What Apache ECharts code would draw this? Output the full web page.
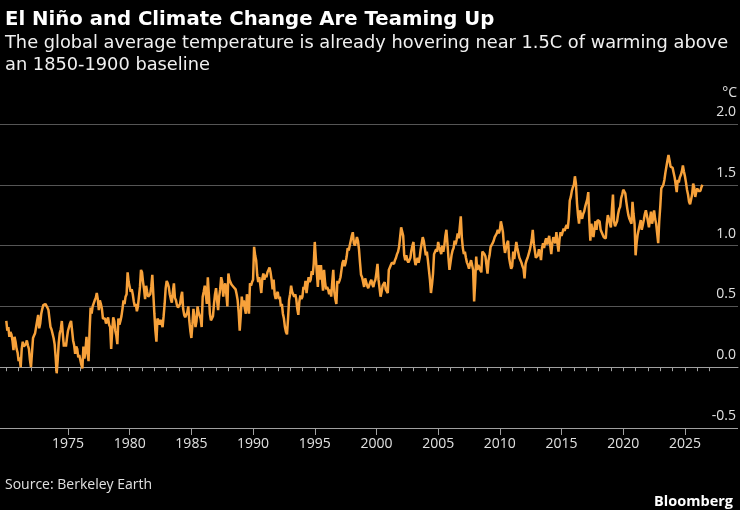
<!DOCTYPE html>
<html>
<head>
<meta charset="utf-8">
<script src="https://cdn.jsdelivr.net/npm/echarts@6/dist/echarts.min.js"></script>
<style>
html,body{margin:0;padding:0;background:#000;}
#chart{width:740px;height:510px;}
</style>
</head>
<body>
<div id="chart"></div>
<script>
// Monthly global temperature anomaly (°C vs 1850-1900), starting January 1970
const startYear = 1970;
const temps1970s = [
  0.38, 0.30, 0.33, 0.25, 0.29, 0.27, 0.22, 0.14, 0.25, 0.21, 0.15, 0.12,
  0.05, 0.08, 0.00, 0.15, 0.21, 0.17, 0.16, 0.19, 0.22, 0.18, 0.15, 0.06,
  0.00, 0.12, 0.24, 0.26, 0.28, 0.33, 0.38, 0.43, 0.32, 0.36, 0.44, 0.48,
  0.51, 0.50, 0.52, 0.52, 0.49, 0.47, 0.40, 0.33, 0.31, 0.30, 0.24, 0.19,
  0.08, -0.05, 0.06, 0.20, 0.28, 0.31, 0.38, 0.27, 0.17, 0.20, 0.17, 0.24,
  0.30, 0.33, 0.36, 0.38, 0.30, 0.22, 0.18, 0.11, 0.17, 0.15, 0.08, 0.10,
  0.06, 0.02, -0.01, 0.17, 0.07, 0.14, 0.25, 0.12, 0.05, 0.30, 0.49, 0.44,
  0.50, 0.51, 0.55, 0.57, 0.61, 0.56, 0.47, 0.55, 0.52, 0.48, 0.40, 0.385,
  0.40, 0.36, 0.38, 0.41, 0.35, 0.33, 0.15, 0.30, 0.41, 0.38, 0.30, 0.26,
  0.19, 0.40, 0.35, 0.38, 0.42, 0.48, 0.55, 0.52, 0.58, 0.60, 0.78, 0.70
];
const temps1980s = [
  0.69, 0.62, 0.64, 0.60, 0.54, 0.50, 0.52, 0.46, 0.50, 0.58, 0.66, 0.80,
  0.78, 0.70, 0.64, 0.56, 0.67, 0.62, 0.58, 0.59, 0.60, 0.66, 0.76, 0.60,
  0.44, 0.30, 0.21, 0.40, 0.38, 0.35, 0.39, 0.36, 0.33, 0.42, 0.52, 0.65,
  0.71, 0.69, 0.66, 0.60, 0.56, 0.53, 0.62, 0.69, 0.57, 0.55, 0.51, 0.49,
  0.48, 0.52, 0.58, 0.62, 0.48, 0.43, 0.41, 0.40, 0.45, 0.50, 0.38, 0.30,
  0.24, 0.35, 0.48, 0.41, 0.33, 0.38, 0.50, 0.45, 0.44, 0.40, 0.33, 0.58,
  0.62, 0.67, 0.60, 0.52, 0.74, 0.60, 0.44, 0.385, 0.40, 0.42, 0.52, 0.60,
  0.65, 0.55, 0.47, 0.58, 0.64, 0.74, 0.70, 0.58, 0.66, 0.69, 0.60, 0.50,
  0.77, 0.72, 0.71, 0.68, 0.67, 0.66, 0.65, 0.64, 0.60, 0.55, 0.45, 0.30,
  0.42, 0.58, 0.50, 0.55, 0.48, 0.44, 0.60, 0.52, 0.44, 0.69, 0.67, 0.70
];
const temps1990s = [
  0.72, 0.99, 0.92, 0.88, 0.76, 0.70, 0.74, 0.68, 0.61, 0.73, 0.77, 0.72,
  0.76, 0.74, 0.78, 0.80, 0.82, 0.78, 0.72, 0.64, 0.72, 0.60, 0.56, 0.60,
  0.62, 0.56, 0.58, 0.50, 0.52, 0.44, 0.40, 0.33, 0.29, 0.27, 0.40, 0.55,
  0.60, 0.67, 0.62, 0.60, 0.58, 0.60, 0.56, 0.48, 0.43, 0.54, 0.59, 0.56,
  0.58, 0.66, 0.64, 0.71, 0.61, 0.68, 0.74, 0.70, 0.72, 0.79, 0.76, 0.85,
  1.03, 0.90, 0.78, 0.66, 0.84, 0.72, 0.84, 0.73, 0.63, 0.80, 0.70, 0.64,
  0.66, 0.64, 0.60, 0.64, 0.58, 0.70, 0.80, 0.62, 0.56, 0.52, 0.71, 0.69,
  0.71, 0.74, 0.80, 0.86, 0.88, 0.83, 0.86, 0.91, 0.98, 0.96, 1.00, 1.04,
  1.08, 1.11, 1.02, 1.00, 1.03, 1.07, 1.04, 0.97, 0.86, 0.76, 0.74, 0.70,
  0.66, 0.73, 0.70, 0.67, 0.65, 0.66, 0.70, 0.72, 0.68, 0.66, 0.70, 0.72
];
const temps2000s = [
  0.78, 0.85, 0.72, 0.65, 0.58, 0.62, 0.67, 0.68, 0.70, 0.64, 0.63, 0.61,
  0.80, 0.82, 0.84, 0.86, 0.86, 0.85, 0.88, 0.90, 0.93, 0.95, 0.99, 0.98,
  1.15, 1.14, 1.08, 0.92, 0.88, 0.92, 0.88, 0.86, 0.88, 0.90, 0.96, 1.00,
  1.03, 0.89, 0.84, 0.87, 0.90, 0.86, 0.90, 0.97, 1.02, 1.07, 1.04, 0.98,
  0.92, 0.95, 0.88, 0.80, 0.72, 0.61, 0.68, 0.77, 0.93, 0.95, 0.97, 0.95,
  1.03, 0.99, 0.96, 0.93, 1.00, 0.95, 1.00, 1.08, 1.13, 1.02, 0.90, 0.80,
  0.86, 0.92, 0.96, 0.98, 1.04, 1.01, 1.05, 1.10, 1.06, 1.15, 1.24, 1.07,
  0.98, 0.93, 0.95, 0.90, 0.86, 0.84, 0.81, 0.85, 0.88, 0.84, 0.80, 0.54,
  0.70, 0.91, 0.80, 0.84, 0.82, 0.80, 0.78, 0.95, 0.96, 0.93, 0.91, 0.84,
  0.77, 0.88, 0.92, 0.99, 0.98, 1.02, 1.04, 1.07, 1.06, 1.10, 1.13, 1.10
];
const temps2010s = [
  1.13, 1.20, 1.16, 1.11, 1.00, 0.94, 0.98, 1.02, 1.04, 0.90, 0.85, 0.81,
  0.83, 0.95, 0.89, 0.96, 1.03, 0.98, 0.94, 0.90, 0.88, 0.86, 0.83, 0.81,
  0.73, 0.85, 0.88, 0.90, 0.93, 0.96, 1.00, 1.05, 1.13, 1.02, 0.96, 0.90,
  0.91, 0.92, 0.97, 0.94, 0.88, 0.98, 1.02, 0.98, 1.03, 1.06, 1.01, 1.00,
  1.08, 1.00, 0.93, 1.02, 1.07, 1.04, 1.02, 1.11, 1.02, 0.95, 1.05, 1.11,
  1.08, 1.11, 1.14, 1.12, 1.15, 1.17, 1.14, 1.22, 1.37, 1.40, 1.45, 1.48,
  1.50, 1.57, 1.51, 1.35, 1.25, 1.18, 1.29, 1.25, 1.22, 1.26, 1.28, 1.32,
  1.32, 1.38, 1.44, 1.20, 1.04, 1.18, 1.12, 1.07, 1.14, 1.20, 1.13, 1.21,
  1.21, 1.20, 1.13, 1.11, 1.10, 1.07, 1.08, 1.06, 1.18, 1.25, 1.22, 1.18,
  1.15, 1.30, 1.42, 1.20, 1.16, 1.17, 1.20, 1.26, 1.30, 1.32, 1.39, 1.42
];
const temps2020s = [
  1.46, 1.45, 1.43, 1.36, 1.30, 1.25, 1.22, 1.20, 1.18, 1.36, 1.26, 1.18,
  0.92, 1.02, 1.09, 1.13, 1.17, 1.21, 1.13, 1.17, 1.21, 1.26, 1.29, 1.25,
  1.25, 1.15, 1.22, 1.28, 1.18, 1.22, 1.29, 1.22, 1.18, 1.10, 1.02, 1.20,
  1.32, 1.47, 1.46, 1.50, 1.54, 1.60, 1.65, 1.70, 1.745, 1.70, 1.65, 1.64,
  1.64, 1.60, 1.56, 1.50, 1.44, 1.54, 1.52, 1.56, 1.58, 1.61, 1.66, 1.61,
  1.57, 1.52, 1.46, 1.42, 1.36, 1.34, 1.33, 1.42, 1.51, 1.48, 1.40, 1.44,
  1.47, 1.45, 1.44, 1.45, 1.48, 1.50
];
const tickYears = [];
for (let y = 1970; y <= 2027; y++) tickYears.push(y);
const labelYears = [1975, 1980, 1985, 1990, 1995, 2000, 2005, 2010, 2015, 2020, 2025];
const yMin = -0.5, yMax = 2.0, yStep = 0.5;

const allTemps = [].concat(temps1970s, temps1980s, temps1990s, temps2000s, temps2010s, temps2020s);
const seriesData = allTemps.map((v, i) => [startYear + i / 12, v]);

const X_MIN = 1969.49, X_MAX = 2029.3;
const FONT = '"Open Sans", "Noto Sans", sans-serif';
const HEAD_FONT = '"DejaVu Sans", "Open Sans", sans-serif';

const chart = echarts.init(document.getElementById('chart'), null, {renderer: 'canvas'});
chart.setOption({
  backgroundColor: '#000000',
  animation: false,
  textStyle: {fontFamily: FONT},
  title: [
    {text: 'El Niño and Climate Change Are Teaming Up', left: 0, top: 4,
     textStyle: {color: '#ffffff', fontSize: 19.7, fontWeight: 'bold', fontFamily: HEAD_FONT, lineHeight: 22}},
    {text: 'The global average temperature is already hovering near 1.5C of warming above\nan 1850-1900 baseline', left: 0, top: 27,
     textStyle: {color: '#f0f0f0', fontSize: 17.8, fontWeight: 'normal', fontFamily: HEAD_FONT, lineHeight: 22}},
    {text: 'Source: Berkeley Earth', left: 0, top: 471,
     textStyle: {color: '#e0e0e0', fontSize: 14, fontWeight: 'normal', fontFamily: FONT, lineHeight: 18}},
    {text: 'Bloomberg', right: 2, top: 488,
     textStyle: {color: '#ffffff', fontSize: 14.5, fontWeight: 'bold', fontFamily: FONT, lineHeight: 18}}
  ],
  graphic: [
    {type: 'text', right: 3, top: 86, style: {text: '°C', fill: '#e0e0e0', fontSize: 14, fontFamily: FONT}}
  ],
  grid: {left: 0, right: 2, top: 124, bottom: 82, containLabel: false},
  xAxis: [
    {type: 'value', min: X_MIN, max: X_MAX, position: 'bottom',
     axisLine: {show: true, lineStyle: {color: '#a0a0a0', width: 1}},
     axisTick: {show: true, length: 4, customValues: tickYears, lineStyle: {color: '#a0a0a0'}},
     axisLabel: {show: false},
     splitLine: {show: false}},
    {type: 'value', min: X_MIN, max: X_MAX, position: 'bottom',
     axisLine: {show: false},
     axisTick: {show: true, length: 7, customValues: labelYears, lineStyle: {color: '#a0a0a0'}},
     axisLabel: {show: true, customValues: labelYears, formatter: v => String(Math.round(v)),
                 color: '#e0e0e0', fontSize: 14, fontFamily: FONT, margin: 9},
     splitLine: {show: false}}
  ],
  yAxis: {
    type: 'value', position: 'right', min: yMin, max: yMax, interval: yStep,
    axisLine: {show: false}, axisTick: {show: false},
    splitLine: {show: true, lineStyle: {color: ['#a0a0a0', '#d0d0d0', '#555555', '#555555', '#555555', '#555555'], width: 1}},
    axisLabel: {inside: true, margin: 2, color: '#e0e0e0', fontSize: 14, fontFamily: FONT,
                verticalAlign: 'bottom', lineHeight: 14, padding: [0, 0, 5, 0],
                formatter: v => v.toFixed(1)}
  },
  series: [{
    type: 'line', xAxisIndex: 0, data: seriesData, showSymbol: false, symbol: 'none',
    lineStyle: {color: '#f7a13a', width: 2.5}, itemStyle: {color: '#f7a13a'}
  }]
});
</script>
</body>
</html>
